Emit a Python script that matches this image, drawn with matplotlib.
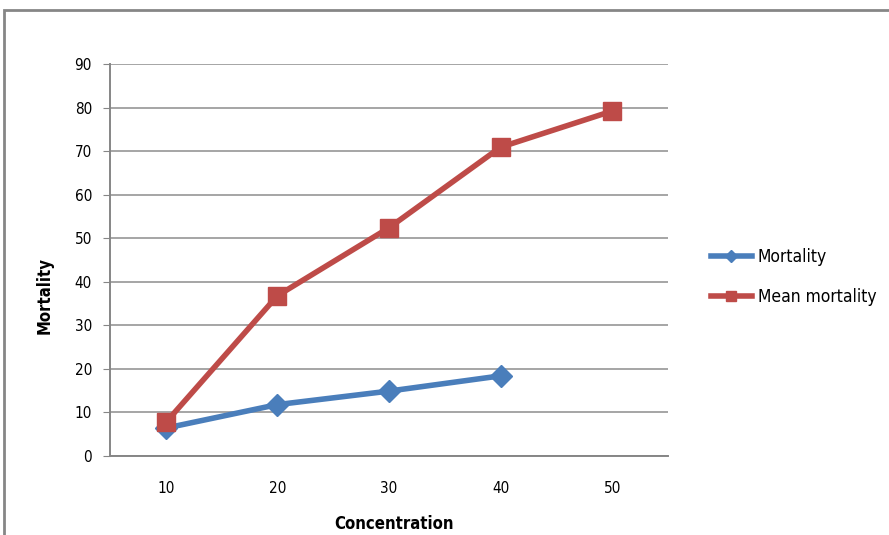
import numpy as np
import matplotlib.pyplot as plt
from matplotlib.patches import Rectangle

categories = ['10', '20', '30', '40', '50']
mortality = [6.4, 11.8, 14.9, 18.4]
mean_mortality = [7.7, 36.8, 52.4, 70.9, 79.2]

plt.rcParams['font.family'] = ['DejaVu Sans']
plt.rcParams['font.stretch'] = 'condensed'

fig = plt.figure(figsize=(8.89, 5.35), dpi=100)
ax = fig.add_axes([110 / 889, 1 - 456 / 535, 558 / 889, 392 / 535])

x = np.arange(len(categories)) + 0.5
ax.plot(x[:len(mortality)], mortality, color='#4A7EBB', lw=4, marker='D',
        markersize=11, label='Mortality', zorder=3)
ax.plot(x, mean_mortality, color='#BE4B48', lw=4, marker='s',
        markersize=13, label='Mean mortality', zorder=4)

ax.set_xlim(0, len(categories))
ax.set_ylim(0, 90)
ax.set_yticks(np.arange(0, 91, 10))
ax.set_xticks(x)
ax.set_xticklabels(categories)
ax.tick_params(axis='x', length=0, pad=18, labelsize=11)
ax.tick_params(axis='y', length=5, color='#868686', pad=8, labelsize=11)
ax.grid(axis='y', color='#969696', lw=1.2)
ax.set_axisbelow(True)
for s in ['top', 'right']:
    ax.spines[s].set_visible(False)
ax.spines['left'].set_color('#868686')
ax.spines['bottom'].set_color('#868686')
ax.spines['left'].set_linewidth(1.4)
ax.spines['bottom'].set_linewidth(1.4)

fig.text(394 / 889, 1 - 524 / 535, 'Concentration', ha='center', va='center',
         fontsize=12, fontweight='bold')
fig.text(45 / 889, 1 - 296 / 535, 'Mortality', ha='center', va='center',
         rotation=90, fontsize=12, fontweight='bold')

fig.legend(loc='center left', bbox_to_anchor=(695 / 889, 1 - 277 / 535),
           frameon=False, fontsize=12.5, handlelength=2.4, labelspacing=1.3,
           handletextpad=0.3, markerscale=0.6)

# outer chart frame (cropped on right and bottom)
fig.patches.append(Rectangle((4 / 889, -0.1), 1.2, 1 - 10 / 535 + 0.1,
                             transform=fig.transFigure, fill=False,
                             edgecolor='#868686', lw=2))

fig.savefig('out.png', dpi=100)
